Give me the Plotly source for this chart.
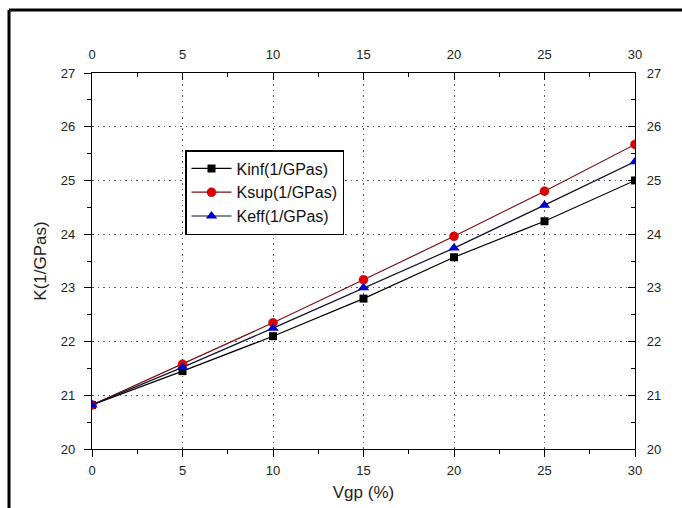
import plotly.graph_objects as go

vgp = [0, 5, 10, 15, 20, 25, 30]
kinf = [20.82, 21.45, 22.10, 22.80, 23.57, 24.24, 25.00]
ksup = [20.82, 21.58, 22.35, 23.15, 23.96, 24.80, 25.67]
keff = [20.82, 21.52, 22.25, 23.00, 23.74, 24.54, 25.35]

W, H = 682, 508
L, R, T, B = 92, 47, 73, 59
pw, ph = W - L - R, H - T - B

fig = go.Figure()
fig.add_trace(go.Scatter(x=vgp, y=kinf, name="Kinf(1/GPas)", mode="lines+markers",
                         line=dict(color="black", width=1.2),
                         marker=dict(symbol="square", size=8, color="black")))
fig.add_trace(go.Scatter(x=vgp, y=ksup, name="Ksup(1/GPas)", mode="lines+markers",
                         line=dict(color="#7a1010", width=1.2),
                         marker=dict(symbol="circle", size=9, color="#e00000", line=dict(color="#b00000", width=0.5))))
fig.add_trace(go.Scatter(x=vgp, y=keff, name="Keff(1/GPas)", mode="lines+markers",
                         line=dict(color="#101030", width=1.2),
                         marker=dict(symbol="triangle-up", size=10, color="#0000cc")))
# helper invisible trace for mirrored axes
fig.add_trace(go.Scatter(x=[vgp[0]], y=[kinf[0]], xaxis="x2", yaxis="y2", mode="markers",
                         marker=dict(opacity=0), showlegend=False, hoverinfo="skip"))

tickfont = dict(family="Liberation Sans, Arial", size=13, color="#222")

def ax(rng, dt, mdt, ticks):
    return dict(range=rng, dtick=dt, tick0=rng[0], ticks=ticks, ticklen=7, tickwidth=1.2,
                tickcolor="black", linecolor="black", linewidth=1.3, showline=True,
                tickfont=tickfont, zeroline=False, automargin=False,
                minor=dict(dtick=mdt, ticklen=4, ticks=ticks, tickcolor="black", showgrid=False))

titlefont = dict(family="Liberation Sans, Arial", size=17, color="#222")
grid = dict(showgrid=True, gridcolor="#555", griddash="1.5px,4px", gridwidth=1)

fig.update_layout(
    width=W, height=H,
    margin=dict(l=L, r=R, t=T, b=B),
    paper_bgcolor="white", plot_bgcolor="white",
    xaxis=dict(**ax([0, 30], 5, 2.5, "outside"), **grid, ticklabelstandoff=2,
               title=dict(text="Vgp (%)", font=titlefont, standoff=9)),
    yaxis=dict(**ax([20, 27], 1, 0.5, "outside"), **grid, ticklabelstandoff=6,
               title=dict(text="K(1/GPas)", font=titlefont, standoff=9)),
    xaxis2=dict(**ax([0, 30], 5, 2.5, "inside"), overlaying="x", side="top", anchor="y2",
                showgrid=False, ticklabelstandoff=8),
    yaxis2=dict(**ax([20, 27], 1, 0.5, "inside"), overlaying="y", side="right", anchor="x2",
                showgrid=False, ticklabelstandoff=8),
    legend=dict(x=(185 - L) / pw, y=1 - (150 - T) / ph, xanchor="left", yanchor="top",
                bgcolor="white", bordercolor="black", borderwidth=1.5,
                font=dict(family="Liberation Sans, Arial", size=16, color="#111"),
                tracegroupgap=0, itemwidth=40, entrywidth=150, entrywidthmode="pixels"),
    showlegend=True,
)

# outer frame lines (image crop border)
fx = (9 - L) / pw
fy = 1 + (T - 10) / ph
fig.add_shape(type="line", xref="paper", yref="paper", x0=fx, x1=fx, y0=-0.3, y1=fy,
              line=dict(color="black", width=3))
fig.add_shape(type="line", xref="paper", yref="paper", x0=fx, x1=1.3, y0=fy, y1=fy,
              line=dict(color="black", width=3))

fig.write_html("out.html")
